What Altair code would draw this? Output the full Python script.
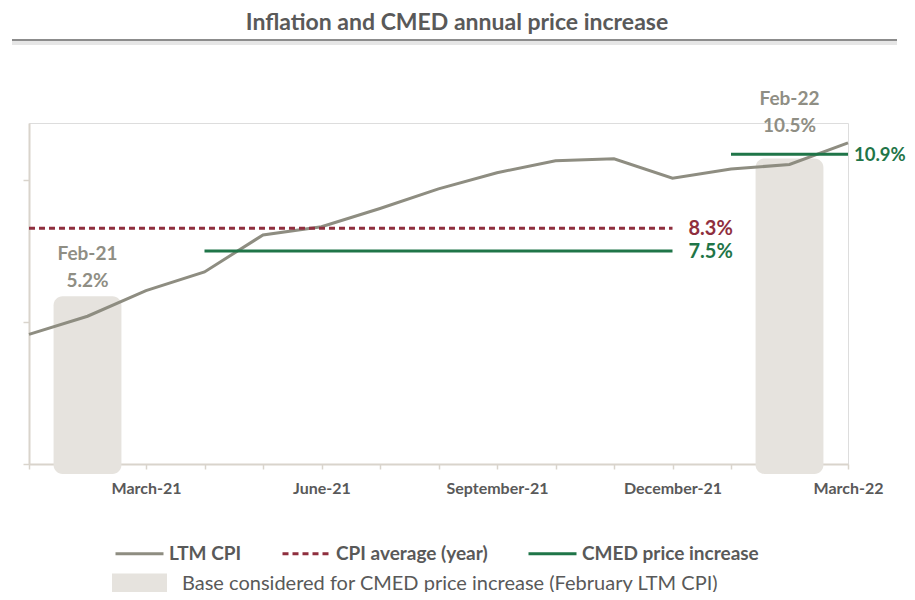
import altair as alt
import pandas as pd

# ---------------- data ----------------
months = ["January-21", "February-21", "March-21", "April-21", "May-21", "June-21",
          "July-21", "August-21", "September-21", "October-21", "November-21",
          "December-21", "January-22", "February-22", "March-22"]
ltm_cpi = [4.56, 5.20, 6.10, 6.76, 8.06, 8.35, 8.99, 9.68, 10.25, 10.67, 10.74,
           10.06, 10.38, 10.54, 11.30]
series_names = ["LTM CPI", "CPI average (year)", "CMED price increase"]
base_name = "Base considered for CMED price increase (February LTM CPI)"

avg_value = [8.3]
avg_start = [0]
avg_end = [11]
avg_labels = ["8.3%"]

cmed_values = [7.5, 10.9]
cmed_start = [3, 12]
cmed_end = [11, 14]
cmed_labels = ["7.5%", "10.9%"]

base_idx = [1, 13]
base_month = ["Feb-21", "Feb-22"]
base_value = [5.2, 10.5]
base_value_text = ["5.2%", "10.5%"]
base_box_top = [5.9, 10.75]

title_text = "Inflation and CMED annual price increase"

# ---------------- styles ----------------
FONT = "Lato"
GRAY_LINE = "#8E8D81"
MAROON = "#8F2F3E"
GREEN = "#1F7548"
BOX = "#E6E3DE"
AXIS = "#D9D4CC"
TEXT = "#595959"
ANNOT = "#8F8E84"

X_SCALE = alt.Scale(domain=[0, 14], nice=False, zero=False)
Y_SCALE = alt.Scale(domain=[0, 12], nice=False, zero=True)

color_scale = alt.Scale(domain=series_names, range=[GRAY_LINE, MAROON, GREEN])
dash_scale = alt.Scale(domain=series_names, range=[[1, 0], [6, 4], [1, 0]])

line_legend = alt.Legend(
    orient="none", legendX=85, legendY=405, direction="horizontal", title=None,
    symbolType="stroke", symbolSize=2304, symbolStrokeWidth=3,
    labelFont=FONT, labelFontSize=19, labelFontWeight="bold", labelColor=TEXT,
    labelOffset=4, columnPadding=34, padding=0, labelLimit=400,
)
box_legend = alt.Legend(
    orient="none", legendX=83, legendY=433, direction="horizontal", title=None,
    symbolType="M-1,-0.36L1,-0.36L1,0.36L-1,0.36Z", symbolSize=3025,
    symbolStrokeWidth=0, symbolOpacity=1,
    labelFont=FONT, labelFontSize=20, labelFontWeight="normal", labelColor=TEXT,
    labelOffset=15, padding=0, labelLimit=700,
)

# ---------------- tables ----------------
cpi_df = pd.DataFrame({"idx": list(range(len(months))), "value": ltm_cpi,
                       "series": series_names[0]})
rules_df = pd.DataFrame({
    "start": avg_start + cmed_start,
    "end": avg_end + cmed_end,
    "value": avg_value + cmed_values,
    "series": [series_names[1]] * len(avg_value) + [series_names[2]] * len(cmed_values),
})
box_df = pd.DataFrame({
    "x0": [i - 0.58 for i in base_idx],
    "x1": [i + 0.58 for i in base_idx],
    "y0": [-0.35] * len(base_idx),
    "y1": base_box_top,
    "base": base_name,
})

label_expr = "datum.value % 3 == 2 ? " + str(months) + "[datum.value] : ''"

# ---------------- layers ----------------
boxes = alt.Chart(box_df).mark_rect(cornerRadius=9).encode(
    x=alt.X("x0:Q", scale=X_SCALE),
    x2="x1:Q",
    y=alt.Y("y0:Q", scale=Y_SCALE),
    y2="y1:Q",
    fill=alt.Fill("base:N", scale=alt.Scale(domain=[base_name], range=[BOX]),
                  legend=box_legend),
)

x_axis = alt.Axis(values=list(range(len(months))), labelExpr=label_expr,
                  tickSize=5, labelPadding=11, labelFlush=False,
                  labelOverlap=False, grid=False,
                  labelFont=FONT, labelFontSize=16, labelFontWeight="bold",
                  labelColor=TEXT, domainColor=AXIS, domainWidth=2,
                  tickColor=AXIS, tickWidth=1.5)
y_axis = alt.Axis(values=[0, 5, 10], labels=False, tickSize=6, grid=False,
                  domainColor=AXIS, domainWidth=2, tickColor=AXIS, tickWidth=1.5)

line = alt.Chart(cpi_df).mark_line(strokeWidth=3).encode(
    x=alt.X("idx:Q", scale=X_SCALE, title=None, axis=x_axis),
    y=alt.Y("value:Q", scale=Y_SCALE, title=None, axis=y_axis),
    color=alt.Color("series:N", scale=color_scale, legend=line_legend),
)

rules = alt.Chart(rules_df).mark_rule(strokeWidth=3).encode(
    x=alt.X("start:Q", scale=X_SCALE, title=None, axis=x_axis),
    x2="end:Q",
    y=alt.Y("value:Q", scale=Y_SCALE, title=None, axis=y_axis),
    color=alt.Color("series:N", scale=color_scale, legend=line_legend),
    strokeDash=alt.StrokeDash("series:N", scale=dash_scale, legend=line_legend),
)

text_layers = []
base_dy = [-62, -67]
for i in range(len(base_idx)):
    d = pd.DataFrame({"idx": [base_idx[i]], "value": [base_value[i]],
                      "lines": [[base_month[i], base_value_text[i]]]})
    text_layers.append(
        alt.Chart(d).mark_text(font=FONT, fontSize=19, fontWeight="bold", color=ANNOT,
                               align="center", baseline="middle", lineHeight=27,
                               dy=base_dy[i]).encode(
            x=alt.X("idx:Q", scale=X_SCALE), y=alt.Y("value:Q", scale=Y_SCALE),
            text="lines")
    )

end_specs = [(avg_end[0], avg_value[0], avg_labels[0], MAROON, 16, 20),
             (cmed_end[0], cmed_values[0], cmed_labels[0], GREEN, 16, 20),
             (cmed_end[1], cmed_values[1], cmed_labels[1], GREEN, 6, 18.5)]
for e, v, lab, col, dx, fs in end_specs:
    d = pd.DataFrame({"idx": [e], "value": [v], "label": [lab]})
    text_layers.append(
        alt.Chart(d).mark_text(font=FONT, fontSize=fs, fontWeight="bold", color=col,
                               align="left", baseline="middle", dx=dx, dy=1).encode(
            x=alt.X("idx:Q", scale=X_SCALE), y=alt.Y("value:Q", scale=Y_SCALE),
            text="label:N")
    )

title_df = pd.DataFrame({"t": [title_text]})
title = alt.Chart(title_df).mark_text(font=FONT, fontSize=23, fontWeight="bold",
                                      color=TEXT, align="center",
                                      baseline="middle").encode(
    text="t:N", x=alt.value(428), y=alt.value(-100))
title_shadow = alt.Chart(title_df).mark_rule(color="#E6E6E6", strokeWidth=4).encode(
    x=alt.value(-17), x2=alt.value(868), y=alt.value(-80))
title_rule = alt.Chart(title_df).mark_rule(color="#666666", strokeWidth=1.5).encode(
    x=alt.value(-17), x2=alt.value(868), y=alt.value(-83))

chart = alt.layer(
    title_shadow, title_rule, title, boxes, line, rules, *text_layers
).properties(
    width=819, height=341,
    autosize=alt.AutoSizeParams(type="none"),
    padding={"left": 21, "top": 115, "right": 59, "bottom": 128},
).configure_view(stroke=None).configure(background="white")

chart.save("out.html", embed_options={"renderer": "svg", "actions": False})
